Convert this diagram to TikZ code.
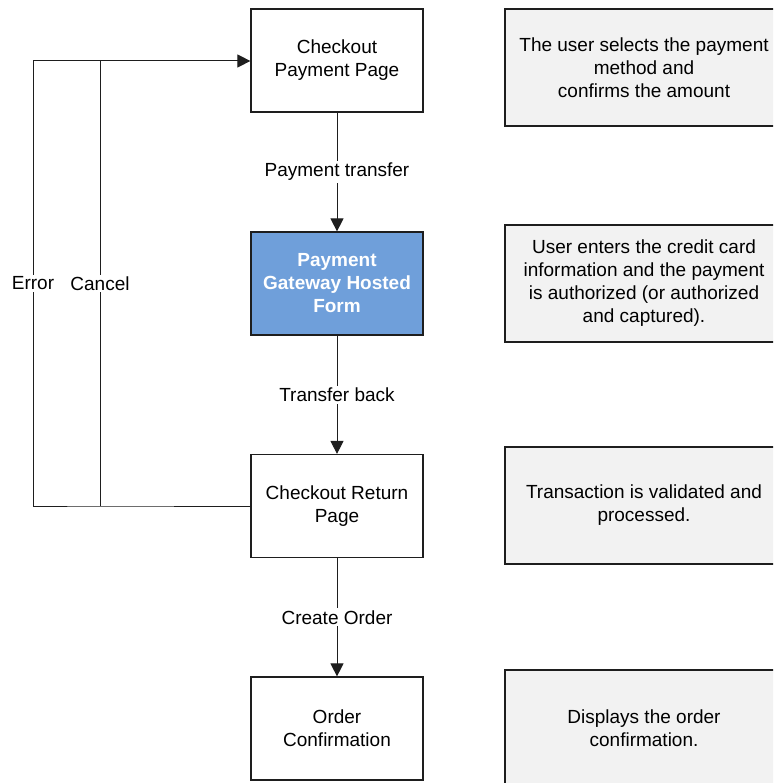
\documentclass[tikz,border=0pt]{standalone}
\usepackage{fontspec}
\setmainfont{Liberation Sans}
\usetikzlibrary{arrows.meta}
\definecolor{gwblue}{RGB}{111,159,218}
\definecolor{notegray}{RGB}{242,242,242}
\definecolor{edge}{RGB}{30,30,30}
\begin{document}
\begin{tikzpicture}[x=1pt,y=-1pt,
  every node/.style={font=\fontsize{19}{23}\selectfont},
  flowbox/.style={draw=edge, line width=1.2pt, fill=white, minimum width=172pt, minimum height=103pt, align=center, inner sep=0pt},
  gatebox/.style={flowbox, fill=gwblue, text=white, font=\fontsize{19}{23}\selectfont\bfseries},
  notebox/.style={draw=edge, line width=1.6pt, fill=notegray, minimum width=278pt, minimum height=117pt, align=center, inner sep=0pt},
  conn/.style={draw=edge, line width=1pt, -{Triangle[length=13pt,width=13pt]}},
  plain/.style={draw=edge, line width=1pt},
  lbl/.style={fill=white, inner sep=2pt}]
\useasboundingbox (0,0) rectangle (773,783);
\clip (0,0) rectangle (773,783);

\node[flowbox] (cpp) at (337,60.5) {Checkout\\Payment Page};
\node[gatebox] (pgh) at (337,283.5) {Payment\\Gateway Hosted\\Form};
\node[flowbox] (crp) at (337,506) {Checkout Return\\Page};
\node[flowbox] (oc) at (337,728.5) {Order\\Confirmation};

\node[notebox] (n1) at (644,67.5) {The user selects the payment\\method and\\confirms the amount};
\node[notebox] (n2) at (644,283.5) {User enters the credit card\\information and the payment\\is authorized (or authorized\\and captured).};
\node[notebox] (n3) at (644,505.5) {Transaction is validated and\\processed.};
\node[notebox] (n4) at (644,728.5) {Displays the order\\confirmation.};

\draw[conn] (cpp) -- node[lbl] {Payment transfer} (pgh);
\draw[conn] (pgh) -- node[lbl] {Transfer back} (crp);
\draw[conn] (crp) -- node[lbl] {Create Order} (oc);

\coordinate (eb) at (33,506);
\coordinate (et) at (33,61);
\coordinate (cb) at (100,506);
\coordinate (ct) at (100,61);
\draw[plain] (crp.west) -- (cb) -- (eb) -- node[lbl, pos=0.5] {Error} (et) -- (ct);
\draw[conn] (cb) -- node[lbl, pos=0.5] {Cancel} (ct) -- (cpp.west |- ct);
\end{tikzpicture}
\end{document}
